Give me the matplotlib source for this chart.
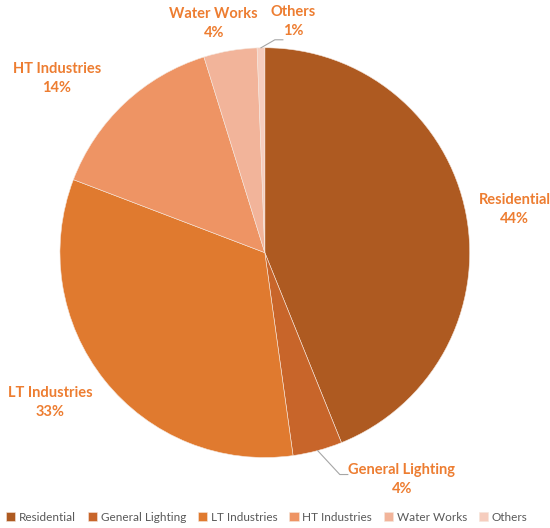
import matplotlib.pyplot as plt
import numpy as np

# данные
categories = ['Residential', 'General Lighting', 'LT Industries', 'HT Industries', 'Water Works', 'Others']
shares = [43.9, 3.9, 33.0, 14.4, 4.2, 0.6]
colors = ['#AE5A21', '#C8652A', '#E07A2F', '#EE9464', '#F2B49A', '#F6CDBE']

# позиции подписей (в единицах радиуса)
label_x = [1.22, 0.668, -1.049, -1.015, -0.249, 0.137]
label_y = [0.21, -1.107, -0.732, 0.849, 1.117, 1.127]

plt.rcParams['font.family'] = ['Lato', 'DejaVu Sans']

fig = plt.figure(figsize=(5.5, 5.28), dpi=100)
ax = fig.add_axes([0.109, 0.133, 0.745, 0.777])

wedges, _ = ax.pie(shares, colors=colors, startangle=90, counterclock=False,
                   radius=1, wedgeprops=dict(edgecolor='#F5E6DC', linewidth=0.4))
ax.set_xlim(-1, 1)
ax.set_ylim(-1, 1)
ax.set_aspect('equal')
ax.axis('off')

total = sum(shares)
for i, w in enumerate(wedges):
    pct = shares[i] / total * 100
    ax.text(label_x[i], label_y[i], f'{categories[i]}\n{pct:.0f}%', ha='center', va='center',
            color='#ED7D31', fontsize=10.5, fontweight='bold', linespacing=1.45, clip_on=False)

# выноски для маленьких секторов
for i, bend, end in [(1, (0.366, -1.083), (0.405, -1.083)), (5, (0.049, 1.039), (0.088, 1.039))]:
    mid = np.deg2rad((wedges[i].theta1 + wedges[i].theta2) / 2)
    p0 = (np.cos(mid), np.sin(mid))
    ax.plot([p0[0], bend[0], end[0]], [p0[1], bend[1], end[1]], color='#A6A6A6',
            linewidth=0.8, clip_on=False)

fig.legend(wedges, categories, loc='center', bbox_to_anchor=(0.485, 0.02), ncol=6, frameon=False,
           fontsize=8.5, handlelength=0.8, handleheight=0.8, handletextpad=0.3, columnspacing=1.0,
           labelcolor='#595959')

plt.savefig('out.png', dpi=100)
